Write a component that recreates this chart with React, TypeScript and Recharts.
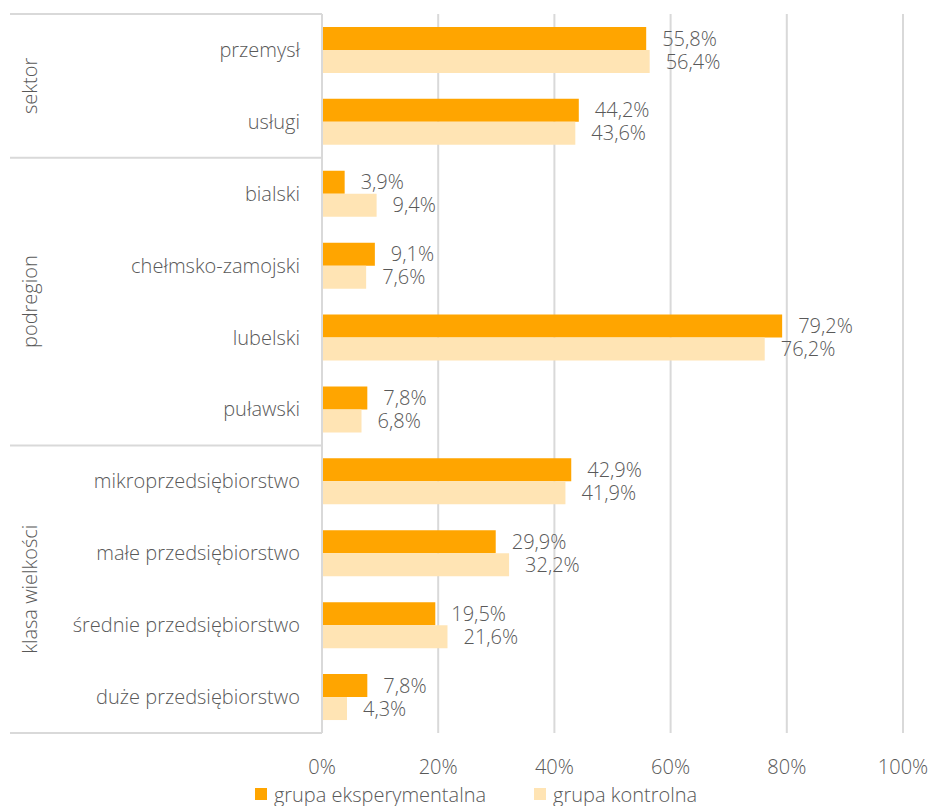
import React from 'react';
import { BarChart, Bar, XAxis, YAxis, CartesianGrid, Legend, LabelList } from 'recharts';

const CATEGORIES = [
  'przemysł',
  'usługi',
  'bialski',
  'chełmsko-zamojski',
  'lubelski',
  'puławski',
  'mikroprzedsiębiorstwo',
  'małe przedsiębiorstwo',
  'średnie przedsiębiorstwo',
  'duże przedsiębiorstwo',
];
const EXPERIMENTAL = [55.8, 44.2, 3.9, 9.1, 79.2, 7.8, 42.9, 29.9, 19.5, 7.8];
const CONTROL = [56.4, 43.6, 9.4, 7.6, 76.2, 6.8, 41.9, 32.2, 21.6, 4.3];
const GROUPS = [
  { name: 'sektor', start: 0, size: 2 },
  { name: 'podregion', start: 2, size: 4 },
  { name: 'klasa wielkości', start: 6, size: 4 },
];
const X_TICKS = [0, 20, 40, 60, 80, 100];
const SERIES = [
  { key: 'exp', name: 'grupa eksperymentalna', color: '#FFA500' },
  { key: 'ctl', name: 'grupa kontrolna', color: '#FFE4B4' },
];

const data = CATEGORIES.map((name, i) => ({ name, exp: EXPERIMENTAL[i], ctl: CONTROL[i] }));

const WIDTH = 930;
const HEIGHT = 806;
const MARGIN = { top: 14, right: 27, bottom: 0, left: 0 };
const AXIS_W = 322;
const XAXIS_H = 49;
const LEGEND_H = 24;
const TEXT = '#595959';
const LINE = '#D9D9D9';
const FONT = '"Open Sans", sans-serif';
const FS = 20;
const FW = 300;

const plotH = HEIGHT - MARGIN.top - MARGIN.bottom - XAXIS_H - LEGEND_H;
const band = plotH / CATEGORIES.length;

const fmt = (v: number) => `${v.toFixed(1).replace('.', ',')}%`;

const CategoryTick = (props: any) => {
  const { x, y, payload, index } = props;
  const group = GROUPS.find((g) => g.start === index);
  const isLast = index === CATEGORIES.length - 1;
  const gy = group ? y - band / 2 + (group.size * band) / 2 : 0;
  return (
    <g>
      <text x={x} y={y} dy="0.35em" textAnchor="end" fill={TEXT} fontSize={FS} fontWeight={FW} fontFamily={FONT}>
        {payload.value}
      </text>
      {group && (
        <>
          <line x1={10} x2={AXIS_W} y1={y - band / 2} y2={y - band / 2} stroke={LINE} strokeWidth={2} />
          <text
            x={30}
            y={gy}
            dy="0.35em"
            textAnchor="middle"
            fill={TEXT}
            fontSize={FS}
            fontWeight={FW}
            fontFamily={FONT}
            transform={`rotate(-90 30 ${gy})`}
          >
            {group.name}
          </text>
        </>
      )}
      {isLast && <line x1={10} x2={AXIS_W} y1={y + band / 2} y2={y + band / 2} stroke={LINE} strokeWidth={2} />}
    </g>
  );
};

const renderLegend = () => (
  <div
    style={{
      height: LEGEND_H,
      display: 'flex',
      justifyContent: 'center',
      alignItems: 'center',
      gap: 48,
      fontFamily: FONT,
      fontSize: FS,
      fontWeight: FW,
      color: TEXT,
      paddingLeft: 49,
    }}
  >
    {SERIES.map((s) => (
      <span key={s.key} style={{ display: 'flex', alignItems: 'center' }}>
        <span style={{ width: 12, height: 12, background: s.color, marginRight: 7, display: 'inline-block' }} />
        {s.name}
      </span>
    ))}
  </div>
);

export default function App() {
  return (
    <div style={{ width: WIDTH, height: HEIGHT, background: '#fff' }}>
      <style>{'body{margin:0}'}</style>
      <BarChart
        width={WIDTH}
        height={HEIGHT}
        data={data}
        layout="vertical"
        margin={MARGIN}
        barCategoryGap="18%"
        barGap={0}
      >
        <CartesianGrid horizontal={false} stroke={LINE} strokeWidth={2} />
        <XAxis
          type="number"
          domain={[0, 100]}
          ticks={X_TICKS}
          tickFormatter={(v: number) => `${v}%`}
          axisLine={false}
          tickLine={false}
          tickSize={0}
          tickMargin={27}
          height={XAXIS_H}
          tick={{ fill: TEXT, fontSize: FS, fontWeight: FW, fontFamily: FONT }}
        />
        <YAxis
          type="category"
          dataKey="name"
          width={AXIS_W}
          axisLine={{ stroke: LINE, strokeWidth: 2 }}
          tickLine={false}
          tickSize={0}
          tickMargin={22}
          interval={0}
          tick={<CategoryTick />}
        />
        <Legend verticalAlign="bottom" content={renderLegend} />
        {SERIES.map((s) => (
          <Bar key={s.key} dataKey={s.key} name={s.name} fill={s.color} isAnimationActive={false}>
            <LabelList
              dataKey={s.key}
              position="right"
              offset={16}
              formatter={(v: any) => fmt(Number(v))}
              fill={TEXT}
              fontSize={FS}
              fontWeight={FW}
              fontFamily={FONT}
            />
          </Bar>
        ))}
      </BarChart>
    </div>
  );
}
